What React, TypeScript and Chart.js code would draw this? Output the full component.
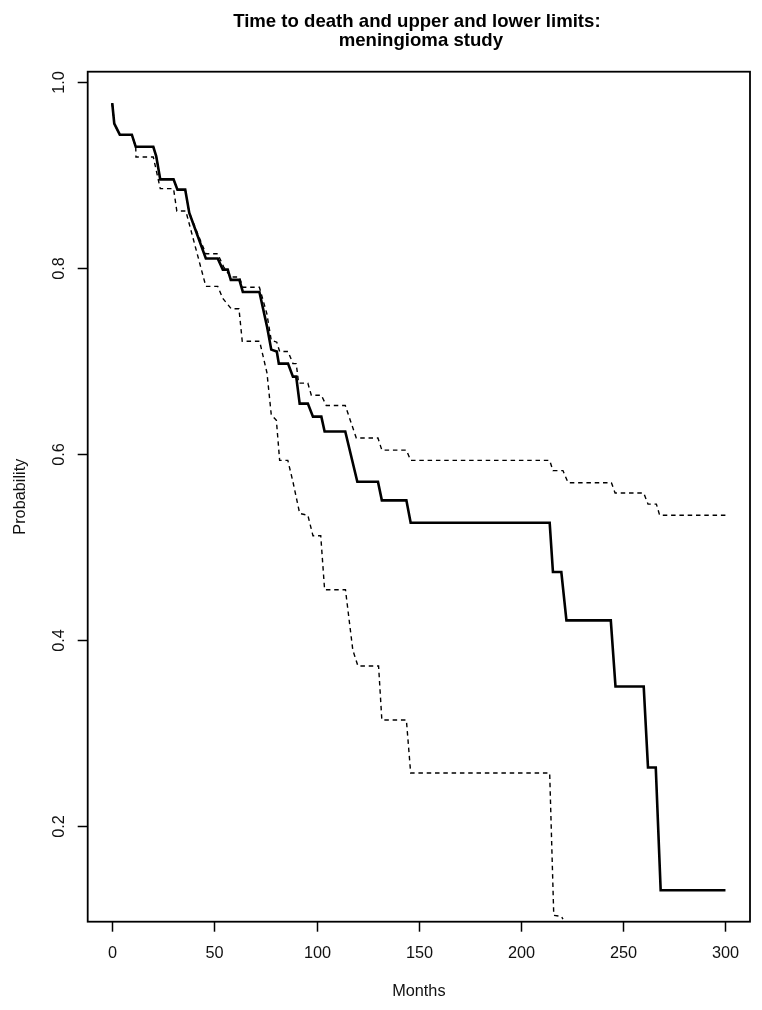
import React, { useEffect, useRef } from "react";
import { Chart, registerables } from "chart.js";

Chart.register(...registerables);

const titleLines = ["Time to death and upper and lower limits:", "meningioma study"];
const xAxisLabel = "Months";
const yAxisLabel = "Probability";
const xTicks = [0, 50, 100, 150, 200, 250, 300];
const yTicks = [0.2, 0.4, 0.6, 0.8, 1.0];

const solidMonths = [0, 1, 3.7, 9.6, 11.5, 20.1, 21.5, 23.5, 30, 31.9, 35.7, 37.7, 45.8, 51.6, 54.1, 56.5, 58, 62.2, 63.9, 72, 75.7, 77.8, 80.5, 81.5, 86, 88.4, 90, 91.7, 95.7, 98.2, 102.3, 103.9, 114, 119.9, 130, 131.9, 143.9, 146, 214, 215.6, 219.7, 222.2, 243.9, 246.2, 260, 262.1, 265.9, 268.3, 300];
const solidProb = [0.977, 0.955, 0.943, 0.943, 0.93, 0.93, 0.92, 0.895, 0.895, 0.884, 0.884, 0.859, 0.81, 0.81, 0.798, 0.798, 0.787, 0.787, 0.774, 0.774, 0.737, 0.712, 0.71, 0.697, 0.697, 0.683, 0.683, 0.654, 0.654, 0.64, 0.64, 0.624, 0.624, 0.57, 0.57, 0.55, 0.55, 0.526, 0.526, 0.473, 0.473, 0.421, 0.421, 0.35, 0.35, 0.263, 0.263, 0.131, 0.131];

const upperMonths = [0, 1, 3.7, 9.6, 11.5, 20.1, 21.5, 23.5, 30, 31.9, 35.7, 37.7, 45.8, 51.6, 54.5, 58, 62.2, 63.9, 72, 75.6, 77.8, 80.5, 81.9, 86, 88.4, 90, 91.2, 95.7, 97.4, 102.3, 104.7, 114, 119.4, 130, 131.9, 143.9, 146, 214, 215.6, 220.5, 223, 244.2, 246, 260, 262.1, 266.2, 267.8, 300];
const upperProb = [0.977, 0.955, 0.943, 0.943, 0.93, 0.93, 0.92, 0.895, 0.895, 0.884, 0.884, 0.859, 0.815, 0.815, 0.801, 0.79, 0.79, 0.779, 0.779, 0.751, 0.722, 0.72, 0.71, 0.71, 0.697, 0.697, 0.676, 0.676, 0.663, 0.663, 0.652, 0.652, 0.617, 0.617, 0.604, 0.604, 0.593, 0.593, 0.582, 0.582, 0.569, 0.569, 0.558, 0.558, 0.546, 0.546, 0.534, 0.534];

const lowerMonths = [0, 1, 3.7, 9.6, 11.5, 11.6, 20.1, 23.5, 30, 31.6, 36, 45.8, 51.6, 54.1, 58.2, 62, 63.6, 72.1, 75.7, 77.8, 80.3, 81.9, 85.9, 88.4, 91.7, 95.7, 98.2, 102, 103.9, 114.1, 117.7, 120.2, 130.3, 131.9, 143.9, 146, 214, 216, 219.7, 220.5];
const lowerProb = [0.977, 0.955, 0.943, 0.943, 0.93, 0.919, 0.919, 0.885, 0.885, 0.861, 0.861, 0.78, 0.78, 0.767, 0.756, 0.756, 0.721, 0.721, 0.687, 0.642, 0.636, 0.593, 0.593, 0.57, 0.536, 0.534, 0.512, 0.512, 0.454, 0.454, 0.389, 0.372, 0.372, 0.314, 0.314, 0.257, 0.257, 0.104, 0.103, 0.1];

const FONT = "'Liberation Sans', Arial, Helvetica, sans-serif";

export default function App() {
  const ref = useRef<HTMLCanvasElement>(null);

  useEffect(() => {
    if (!ref.current) return;
    const toPts = (xs: number[], ys: number[]) => xs.map((x, i) => ({ x, y: ys[i] }));

    const frame = {
      id: "frame",
      afterDraw(chart: any) {
        const ctx = chart.ctx as CanvasRenderingContext2D;
        const { left, top, right, bottom } = chart.chartArea;
        const xs = chart.scales.x;
        const ys = chart.scales.y;
        ctx.save();
        ctx.strokeStyle = "#000";
        ctx.fillStyle = "#111";
        ctx.lineWidth = 1.8;
        ctx.strokeRect(left, top, right - left, bottom - top);

        ctx.lineWidth = 1.5;
        ctx.font = `16.3px ${FONT}`;
        ctx.textAlign = "center";
        ctx.textBaseline = "alphabetic";
        for (const t of xTicks) {
          const px = Math.round(xs.getPixelForValue(t)) + 0.5;
          ctx.beginPath();
          ctx.moveTo(px, bottom);
          ctx.lineTo(px, bottom + 10);
          ctx.stroke();
          ctx.fillText(String(t), px, 958);
        }
        for (const t of yTicks) {
          const py = Math.round(ys.getPixelForValue(t)) + 0.5;
          ctx.beginPath();
          ctx.moveTo(left - 10, py);
          ctx.lineTo(left, py);
          ctx.stroke();
          ctx.save();
          ctx.translate(64, py);
          ctx.rotate(-Math.PI / 2);
          ctx.fillText(t.toFixed(1), 0, 0);
          ctx.restore();
        }

        const cx = (left + right) / 2;
        ctx.fillText(xAxisLabel, cx, 996);
        ctx.save();
        ctx.translate(25, (top + bottom) / 2);
        ctx.rotate(-Math.PI / 2);
        ctx.fillText(yAxisLabel, 0, 0);
        ctx.restore();

        ctx.fillStyle = "#000";
        ctx.font = `bold 18.6px ${FONT}`;
        ctx.fillText(titleLines[0], cx - 2, 27);
        ctx.fillText(titleLines[1], cx + 2, 46);
        ctx.restore();
      },
    };

    const chart = new Chart(ref.current, {
      type: "line",
      data: {
        datasets: [
          {
            data: toPts(solidMonths, solidProb),
            borderColor: "#000",
            borderWidth: 2.6,
            pointRadius: 0,
            tension: 0,
            fill: false,
          },
          {
            data: toPts(upperMonths, upperProb),
            borderColor: "#000",
            borderWidth: 1.4,
            borderDash: [4.5, 3.8],
            pointRadius: 0,
            tension: 0,
            fill: false,
          },
          {
            data: toPts(lowerMonths, lowerProb),
            borderColor: "#000",
            borderWidth: 1.4,
            borderDash: [4.5, 3.8],
            pointRadius: 0,
            tension: 0,
            fill: false,
          },
        ],
      },
      options: {
        responsive: false,
        animation: false,
        events: [],
        layout: { padding: { left: 87.7, top: 71.7, right: 12, bottom: 88.3 } },
        scales: {
          x: { type: "linear", min: -12, max: 312, display: false },
          y: { type: "linear", min: 0.0972, max: 1.0107, display: false },
        },
        plugins: {
          legend: { display: false },
          tooltip: { enabled: false },
          title: { display: false },
        },
      },
      plugins: [frame],
    });
    return () => chart.destroy();
  }, []);

  return (
    <div style={{ position: "fixed", left: 0, top: 0, width: 762, height: 1010, background: "#fff" }}>
      <canvas ref={ref} width={762} height={1010} style={{ width: 762, height: 1010, display: "block" }} />
    </div>
  );
}
